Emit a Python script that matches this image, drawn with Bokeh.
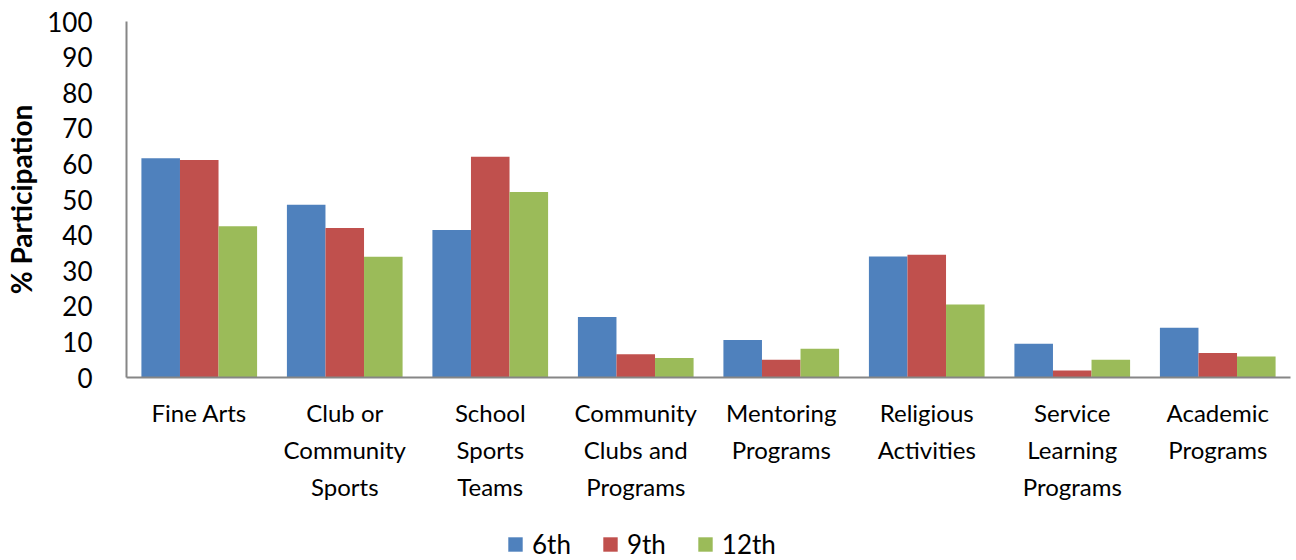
from bokeh.plotting import figure
from bokeh.layouts import column
from bokeh.models import ColumnDataSource, Range1d, FactorRange, SingleIntervalTicker, Legend, LegendItem
from bokeh.transform import dodge
from bokeh.embed import file_html
from bokeh.resources import INLINE

categories = ["Fine Arts", "Club or\nCommunity\nSports", "School\nSports\nTeams",
              "Community\nClubs and\nPrograms", "Mentoring\nPrograms", "Religious\nActivities",
              "Service\nLearning\nPrograms", "Academic\nPrograms"]
grade6 = [61.6, 48.5, 41.4, 17.0, 10.5, 34.0, 9.5, 14.0]
grade9 = [61.1, 42.0, 62.0, 6.5, 5.0, 34.5, 2.0, 6.9]
grade12 = [42.5, 33.9, 52.1, 5.5, 8.1, 20.5, 5.0, 5.9]
series_names = ["6th", "9th", "12th"]
colors = ["#4F81BD", "#C0504D", "#9BBB59"]

src = ColumnDataSource(dict(cat=categories, g6=grade6, g9=grade9, g12=grade12))

p = figure(x_range=FactorRange(*categories), y_range=Range1d(0, 100),
           frame_width=1164, frame_height=356,
           min_border_left=126, min_border_right=6, min_border_top=21, min_border_bottom=143,
           output_backend="svg", toolbar_location=None)

w = 0.265
for key, off, col in zip(["g6", "g9", "g12"], [-w, 0, w], colors):
    p.vbar(x=dodge("cat", off, range=p.x_range), top=key, width=w, source=src,
           fill_color=col, line_color=None)

p.xgrid.visible = False
p.ygrid.visible = False
p.outline_line_color = None

p.yaxis.ticker = SingleIntervalTicker(interval=10)
p.yaxis.axis_label = "% Participation"
p.yaxis.axis_label_text_font = "Lato"
p.yaxis.axis_label_text_font_style = "bold"
p.yaxis.axis_label_text_font_size = "28px"
p.yaxis.axis_label_text_color = "black"
p.yaxis.axis_label_standoff = 6
p.yaxis.major_label_text_font = "Lato"
p.yaxis.major_label_text_font_size = "26px"
p.yaxis.major_label_text_color = "black"
p.yaxis.major_label_standoff = 28
p.yaxis.major_tick_line_color = None
p.yaxis.minor_tick_line_color = None
p.yaxis.axis_line_color = "#868686"
p.yaxis.axis_line_width = 2

p.xaxis.major_label_text_font = "Lato"
p.xaxis.major_label_text_font_size = "24px"
p.xaxis.major_label_text_color = "black"
p.xaxis.major_label_text_line_height = 1.28
p.xaxis.major_label_standoff = 14
p.xaxis.major_tick_line_color = None
p.xaxis.axis_line_color = "#868686"
p.xaxis.axis_line_width = 2

# legend strip below the chart
lg = figure(frame_width=1164, frame_height=40, x_range=(0, 1), y_range=(0, 1),
            min_border_left=126, min_border_right=6, min_border_top=0, min_border_bottom=0,
            x_axis_type=None, y_axis_type=None,
            output_backend="svg", toolbar_location=None)
lg.outline_line_color = None
lg.xgrid.visible = False
lg.ygrid.visible = False
items = []
for n, col in zip(series_names, colors):
    r = lg.vbar(x=[-10], top=[-10], bottom=[-11], width=0.1, fill_color=col, line_color=None)
    items.append(LegendItem(label=n, renderers=[r]))
legend = Legend(items=items, orientation="horizontal", location=(380, 0),
                glyph_width=18, glyph_height=18, label_standoff=8, spacing=30,
                padding=0, margin=0, border_line_color=None, background_fill_alpha=0,
                label_text_font="Lato", label_text_font_size="26px", label_height=26,
                label_text_color="black")
lg.add_layout(legend, "center")

layout = column(p, lg, spacing=0)
open("out.html", "w").write(file_html(layout, INLINE))
